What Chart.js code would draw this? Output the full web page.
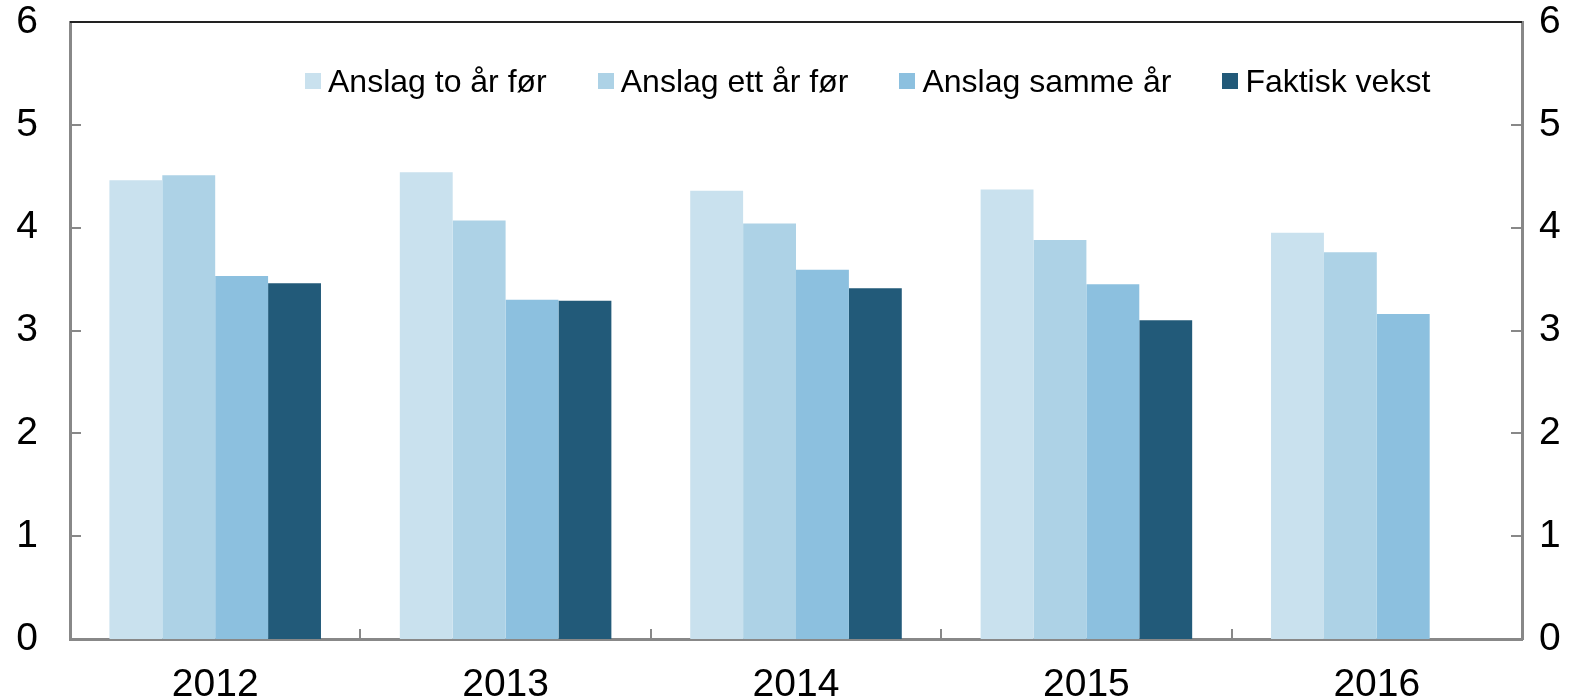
<!DOCTYPE html>
<html lang="no">
<head>
    <meta charset="UTF-8">
    <title>Anslag og faktisk vekst</title>
    <script src="https://cdn.jsdelivr.net/npm/chart.js"></script>
    <style>
        body { margin: 0; background: #fff; font-family: "Liberation Sans", Arial, sans-serif; }
        .wrap { position: relative; width: 1587px; height: 700px; }
        #legend { position: absolute; left: 305px; top: 61px; display: flex; gap: 51px; font-size: 32px; line-height: 40px; color: #000; }
        #legend .item { display: flex; align-items: center; white-space: nowrap; }
        #legend .box { width: 16px; height: 16px; margin-right: 7px; }
    </style>
</head>
<body>
    <div class="wrap">
        <canvas id="chart" width="1587" height="700"></canvas>
        <div id="legend"></div>
    </div>

    <script>
        // Data lest av figuren
        const years = ['2012', '2013', '2014', '2015', '2016'];
        const toArFor = [4.46, 4.54, 4.36, 4.37, 3.95];
        const ettArFor = [4.51, 4.07, 4.04, 3.88, 3.76];
        const sammeAr = [3.53, 3.30, 3.59, 3.45, 3.16];
        const faktisk = [3.46, 3.29, 3.41, 3.10, null];
        const yTicks = [0, 1, 2, 3, 4, 5, 6];

        const series = [
            { label: 'Anslag to år før', data: toArFor, color: '#c9e1ee' },
            { label: 'Anslag ett år før', data: ettArFor, color: '#add2e6' },
            { label: 'Anslag samme år', data: sammeAr, color: '#8cc0df' },
            { label: 'Faktisk vekst', data: faktisk, color: '#225a79' }
        ];

        // Tegner innvendige tikkmerker og topplinjen
        const innerTicks = {
            id: 'innerTicks',
            afterDraw(chart) {
                const { ctx, chartArea: a, scales } = chart;
                ctx.save();
                ctx.strokeStyle = '#888';
                ctx.lineWidth = 2;
                ctx.beginPath();
                scales.y.ticks.forEach((t, i) => {
                    const y = Math.round(scales.y.getPixelForTick(i));
                    ctx.moveTo(a.left, y); ctx.lineTo(a.left + 11, y);
                });
                scales.y2.ticks.forEach((t, i) => {
                    const y = Math.round(scales.y2.getPixelForTick(i));
                    ctx.moveTo(a.right, y); ctx.lineTo(a.right - 11, y);
                });
                for (let i = 0; i < years.length - 1; i++) {
                    const x = Math.round((scales.x.getPixelForValue(i) + scales.x.getPixelForValue(i + 1)) / 2);
                    ctx.moveTo(x, a.bottom); ctx.lineTo(x, a.bottom - 10);
                }
                ctx.stroke();
                ctx.strokeStyle = '#222';
                ctx.lineWidth = 2;
                ctx.beginPath();
                ctx.moveTo(a.left, a.top); ctx.lineTo(a.right, a.top);
                ctx.stroke();
                ctx.restore();
            }
        };

        const tickFont = { family: '"Liberation Sans", Arial, sans-serif', size: 39 };

        // Fast bredde og ingen ekstra luft over/under for y-aksene
        const fixY = w => s => { s.width = w; s.paddingTop = 0; s.paddingBottom = 0; };

        new Chart(document.getElementById('chart'), {
            type: 'bar',
            data: {
                labels: years,
                datasets: series.map(s => ({
                    label: s.label,
                    data: s.data,
                    backgroundColor: s.color,
                    borderWidth: 0,
                    barPercentage: 1,
                    categoryPercentage: 0.7285
                }))
            },
            options: {
                responsive: false,
                animation: false,
                layout: { padding: { top: 22, left: 0, right: 0, bottom: 0 } },
                plugins: { legend: { display: false }, tooltip: { enabled: false } },
                scales: {
                    x: {
                        z: 1,
                        grid: { display: false, drawTicks: false },
                        border: { display: true, color: '#888', width: 3 },
                        ticks: { color: '#000', font: tickFont, padding: 23, maxRotation: 0 },
                        afterFit: s => { s.height = 61; s.paddingLeft = 0; s.paddingRight = 0; }
                    },
                    y: {
                        position: 'left',
                        min: 0, max: 6,
                        grid: { display: false, drawTicks: false },
                        border: { display: true, color: '#888', width: 3 },
                        ticks: { color: '#000', font: tickFont, padding: 32, stepSize: 1,
                                 callback: v => yTicks.includes(v) ? String(v) : '' },
                        afterFit: fixY(70)
                    },
                    y2: {
                        position: 'right',
                        min: 0, max: 6,
                        grid: { display: false, drawTicks: false },
                        border: { display: true, color: '#888', width: 3 },
                        ticks: { color: '#000', font: tickFont, padding: 17, stepSize: 1,
                                 callback: v => yTicks.includes(v) ? String(v) : '' },
                        afterFit: fixY(65)
                    }
                }
            },
            plugins: [innerTicks]
        });

        // Forklaring inne i plottet
        const legend = document.getElementById('legend');
        series.forEach(s => {
            const item = document.createElement('div');
            item.className = 'item';
            item.innerHTML = `<span class="box" style="background:${s.color}"></span><span>${s.label}</span>`;
            legend.appendChild(item);
        });
    </script>
</body>
</html>
